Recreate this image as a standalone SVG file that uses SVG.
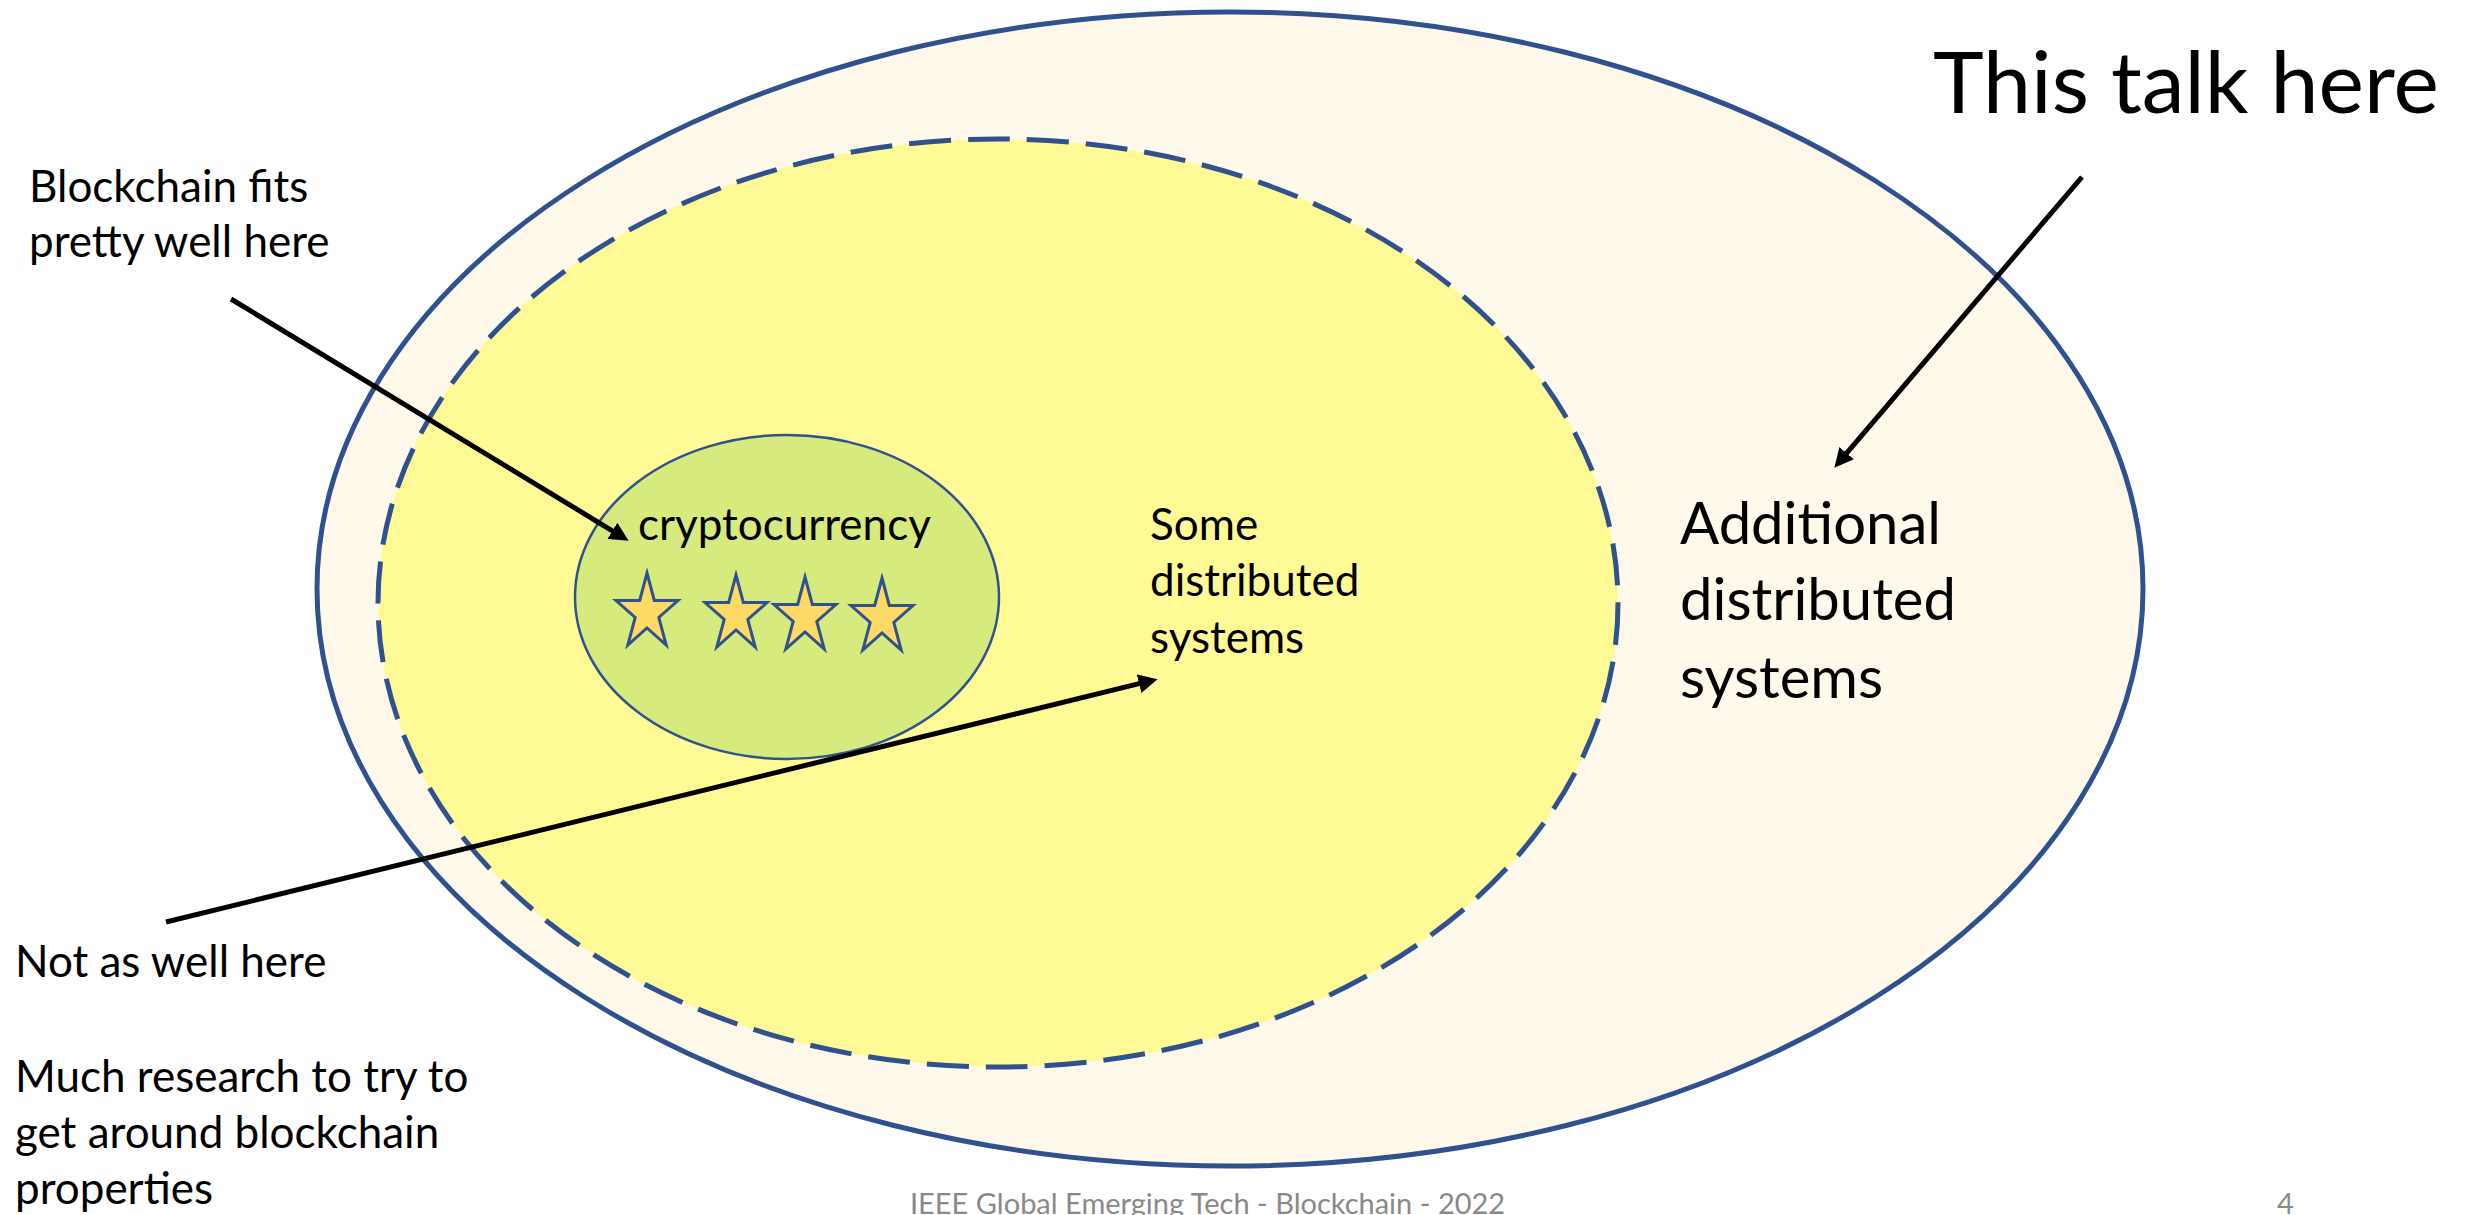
<svg xmlns="http://www.w3.org/2000/svg" width="2468" height="1215" viewBox="0 0 2468 1215">
<style>
.t{font-family:Lato,"Liberation Sans",sans-serif;fill:#000}
.s{font-size:44px}
.m{font-size:58px}
.l{font-size:86px}
.f{font-family:Lato,"Liberation Sans",sans-serif;fill:#898989;font-size:29px}
.edge{stroke:#000;stroke-width:5;fill:none;marker-end:url(#ah)}
.star{fill:#FFD966;stroke:#2F528F;stroke-width:3;stroke-linejoin:miter}
</style>
<defs>
<marker id="ah" viewBox="0 0 10 10" refX="5" refY="5" markerWidth="3.8" markerHeight="3.8" orient="auto">
<path d="M0,0 L10,5 L0,10 z" fill="#000"/>
</marker>
<path id="st" d="M31,0 L38.3,27.5 L62,27.5 L42.8,44.5 L50.2,72 L31,55 L11.8,72 L19.2,44.5 L0,27.5 L23.7,27.5 Z"/>
</defs>
<rect width="2468" height="1215" fill="#fff"/>
<g id="outer">
<ellipse cx="1230" cy="589" rx="913" ry="577" fill="#FFF9EC" stroke="#2F528F" stroke-width="5"/>
<text class="t m" x="1680" y="544">Additional</text>
<text class="t m" x="1680" y="620">distributed</text>
<text class="t m" x="1680" y="698">systems</text>
</g>
<g id="some">
<ellipse cx="998" cy="603" rx="620" ry="464" fill="#FFFA96" stroke="#2F528F" stroke-width="5" stroke-dasharray="42 17"/>
<text class="t s" x="1150" y="540">Some</text>
<text class="t s" x="1150" y="596">distributed</text>
<text class="t s" x="1150" y="653">systems</text>
</g>
<g id="crypto">
<ellipse cx="787" cy="597" rx="212" ry="162" fill="#D7EA7D" stroke="#2F528F" stroke-width="2.5"/>
<text class="t s" x="638" y="540">cryptocurrency</text>
<use href="#st" class="star" transform="translate(616,573)"/>
<use href="#st" class="star" transform="translate(705,575)"/>
<use href="#st" class="star" transform="translate(774,577)"/>
<use href="#st" class="star" transform="translate(851,578)"/>
</g>
<g id="label-top">
<text class="t l" x="1933" y="113">This talk here</text>
</g>
<g id="label-left-top">
<text class="t s" x="29" y="202">Blockchain fits</text>
<text class="t s" x="29" y="257">pretty well here</text>
</g>
<g id="label-left-bottom">
<text class="t s" x="15" y="977">Not as well here</text>
<text class="t s" x="15" y="1092">Much research to try to</text>
<text class="t s" x="15" y="1148">get around blockchain</text>
<text class="t s" x="15" y="1204">properties</text>
</g>
<g id="footer">
<text class="f" x="910" y="1214">IEEE Global Emerging Tech - Blockchain - 2022</text>
<text class="f" x="2277" y="1214">4</text>
</g>
<g id="connectors">
<line class="edge" x1="231" y1="299" x2="620.5" y2="535.8"/>
<line class="edge" x1="166" y1="922" x2="1148.3" y2="681.4"/>
<line class="edge" x1="2082" y1="177" x2="1840.5" y2="460.4"/>
</g>
</svg>
